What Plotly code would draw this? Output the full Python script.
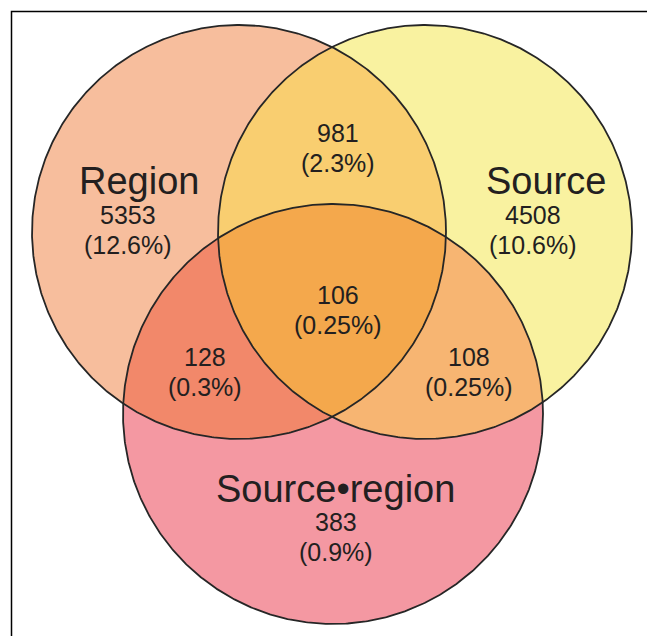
import numpy as np
import plotly.graph_objects as go

# ---- data ----
set_names = ["Region", "Source", "Source•region"]
# regions: sets included (indices into set_names)
region_members = [(0,), (1,), (2,), (0, 1), (0, 2), (1, 2), (0, 1, 2)]
region_counts = [5353, 4508, 383, 981, 128, 108, 106]
region_percents = ["12.6%", "10.6%", "0.9%", "2.3%", "0.3%", "0.25%", "0.25%"]

# ---- layout (pixel coordinates) ----
W, H = 647, 636
circles = [(239, 232, 207), (425, 232, 207), (333, 414, 210)]
region_colors = {
    (0,): "#F7BE9D",
    (1,): "#F9F2A0",
    (2,): "#F498A2",
    (0, 1): "#F9CE70",
    (0, 2): "#F2886A",
    (1, 2): "#F7B572",
    (0, 1, 2): "#F4A84C",
}
label_pos = {
    (0,): (128, 215),
    (1,): (533, 215),
    (2,): (336, 522),
    (0, 1): (338, 133),
    (0, 2): (205, 357),
    (1, 2): (469, 357),
    (0, 1, 2): (338, 295),
}
name_pos = {(0,): (139, 181), (1,): (546, 181), (2,): (335, 489)}


def region_polygon(idx):
    pts = []
    t = np.linspace(0, 2 * np.pi, 1440, endpoint=False)
    for i in idx:
        cx, cy, r = circles[i]
        px, py = cx + r * np.cos(t), cy + r * np.sin(t)
        ok = np.ones_like(px, dtype=bool)
        for j in idx:
            if j == i:
                continue
            qx, qy, qr = circles[j]
            ok &= (px - qx) ** 2 + (py - qy) ** 2 <= qr ** 2 + 1e-6
        pts.append(np.column_stack([px[ok], py[ok]]))
    pts = np.vstack(pts)
    c = pts.mean(axis=0)
    ang = np.arctan2(pts[:, 1] - c[1], pts[:, 0] - c[0])
    pts = pts[np.argsort(ang)]
    pts = np.vstack([pts, pts[:1]])
    return pts[:, 0], pts[:, 1]


fig = go.Figure()
for idx in sorted(region_members, key=len):
    xs, ys = region_polygon(idx)
    fig.add_trace(go.Scatter(x=xs, y=ys, mode="lines", fill="toself",
                             fillcolor=region_colors[idx],
                             line=dict(width=0, color=region_colors[idx]),
                             hoverinfo="skip", showlegend=False))

t = np.linspace(0, 2 * np.pi, 721)
for cx, cy, r in circles:
    fig.add_trace(go.Scatter(x=cx + r * np.cos(t), y=cy + r * np.sin(t), mode="lines",
                             line=dict(color="#262626", width=1.8),
                             hoverinfo="skip", showlegend=False))

# frame: top and left edges
fig.add_trace(go.Scatter(x=[W + 10, 11.5, 11.5], y=[11.5, 11.5, H + 10], mode="lines",
                         line=dict(color="black", width=1.5), hoverinfo="skip",
                         showlegend=False))

font_family = "Liberation Sans, Arial, Helvetica, sans-serif"
txt_color = "#231f20"
for idx, cnt, pct in zip(region_members, region_counts, region_percents):
    x, y = label_pos[idx]
    fig.add_annotation(x=x, y=y, text=str(cnt), showarrow=False, xref="x", yref="y",
                       font=dict(size=25, color=txt_color, family=font_family),
                       xanchor="center", yanchor="middle")
    fig.add_annotation(x=x, y=y + 30, text="(" + pct + ")", showarrow=False, xref="x", yref="y",
                       font=dict(size=25, color=txt_color, family=font_family),
                       xanchor="center", yanchor="middle")
for i, name in enumerate(set_names):
    x, y = name_pos[(i,)]
    fig.add_annotation(x=x, y=y, text=name, showarrow=False, xref="x", yref="y",
                       font=dict(size=38, color=txt_color, family=font_family),
                       xanchor="center", yanchor="middle")

fig.update_xaxes(range=[0, W], visible=False, fixedrange=True)
fig.update_yaxes(range=[H, 0], visible=False, fixedrange=True)
fig.update_layout(width=W, height=H, margin=dict(l=0, r=0, t=0, b=0),
                  paper_bgcolor="white", plot_bgcolor="white")

fig.write_html("out.html", config={"displayModeBar": False},
               post_script="document.body.style.margin='0';document.body.style.overflow='hidden';")
